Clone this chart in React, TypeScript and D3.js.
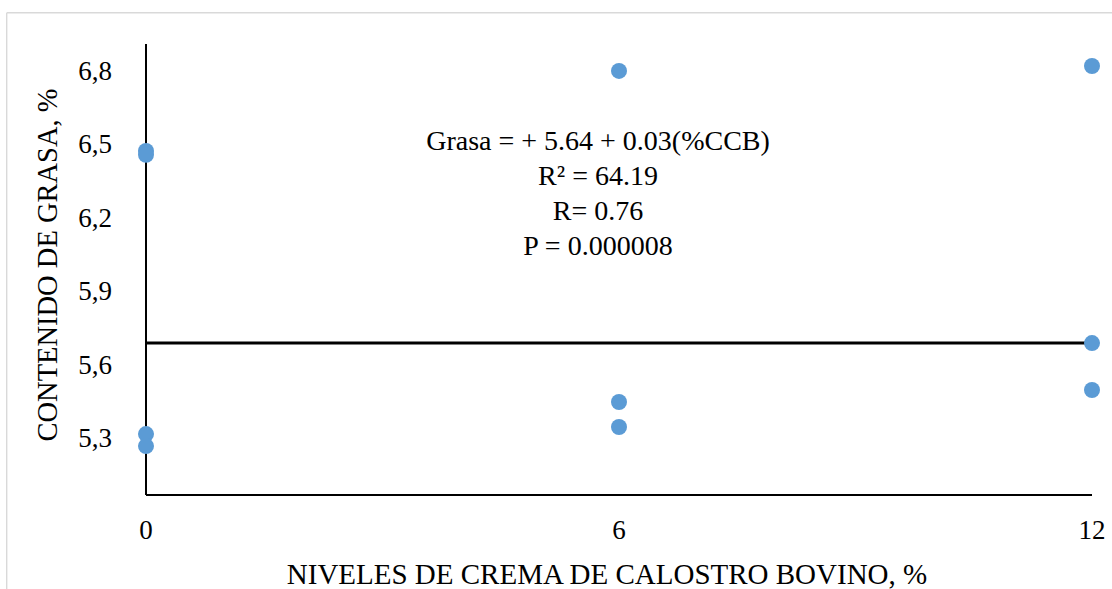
import React from "react";
import * as d3 from "d3";

// Levels of bovine colostrum cream (%) and the fat content measured at each
const levelsX = [0, 0, 0, 0, 6, 6, 6, 12, 12, 12];
const fatY = [6.473, 6.457, 5.316, 5.267, 6.8, 5.447, 5.345, 6.82, 5.688, 5.496];

const xTicks = [0, 6, 12];
const yTicks = [5.3, 5.6, 5.9, 6.2, 6.5, 6.8];

// Fitted line drawn across the level range
const fitLevel = [0, 12];
const fitValue = 5.688;

const equationLines = ["Grasa = + 5.64 + 0.03(%CCB)", "R² = 64.19", "R= 0.76", "P = 0.000008"];

const xTitle = "NIVELES DE CREMA DE CALOSTRO BOVINO, %";
const yTitle = "CONTENIDO DE GRASA, %";

const W = 1112;
const H = 589;
const font = '"Liberation Serif", Tinos, "Times New Roman", Times, "DejaVu Serif", serif';

export default function App() {
  const left = 146;
  const right = 1092;
  const top = 44;
  const bottom = 495;

  const x = d3.scaleLinear().domain([0, 12]).range([left, right]);
  const y = d3.scaleLinear().domain([5.067, 6.91]).range([bottom, top]);

  const fitPath = d3.line<number>()
    .x((d) => x(d))
    .y(() => y(fitValue))(fitLevel) || "";

  const txt = { fontFamily: font, fill: "#000" } as React.CSSProperties;

  return (
    <svg
      width={W}
      height={H}
      style={{ position: "absolute", left: 0, top: 0, background: "#fff", fontFamily: font }}
    >
      {/* chart frame */}
      <line x1={6.7} y1={12.7} x2={W} y2={12.7} stroke="#d9d9d9" strokeWidth={1.4} />
      <line x1={6.7} y1={12.7} x2={6.7} y2={H} stroke="#d9d9d9" strokeWidth={1.4} />

      {/* axes */}
      <line x1={left} y1={top} x2={left} y2={bottom} stroke="#000" strokeWidth={2} />
      <line x1={left} y1={bottom} x2={right} y2={bottom} stroke="#000" strokeWidth={2} />

      {/* y tick labels */}
      {yTicks.map((t) => (
        <text key={t} x={112} y={y(t) + 9} textAnchor="end" fontSize={27} style={txt}>
          {t.toFixed(1).replace(".", ",")}
        </text>
      ))}

      {/* x tick labels */}
      {xTicks.map((t) => (
        <text key={t} x={x(t)} y={539} textAnchor="middle" fontSize={27} style={txt}>
          {t}
        </text>
      ))}

      {/* fitted line */}
      <path d={fitPath} stroke="#000" strokeWidth={3} fill="none" />

      {/* observations */}
      {levelsX.map((lv, i) => (
        <circle key={i} cx={x(lv)} cy={y(fatY[i])} r={8} fill="#5b9bd5" />
      ))}

      {/* regression statistics */}
      {equationLines.map((s, i) => (
        <text key={i} x={598} y={150 + i * 35} textAnchor="middle" fontSize={28} style={txt}>
          {s}
        </text>
      ))}

      {/* axis titles */}
      <text x={607} y={584} textAnchor="middle" fontSize={29} style={txt}>
        {xTitle}
      </text>
      <text
        transform={`translate(57,265) rotate(-90)`}
        textAnchor="middle"
        fontSize={28.5}
        style={txt}
      >
        {yTitle}
      </text>
    </svg>
  );
}
